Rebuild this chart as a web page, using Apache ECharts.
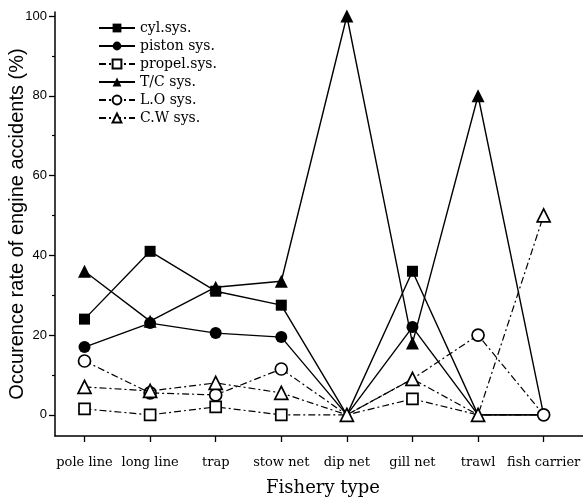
<!DOCTYPE html>
<html>
<head>
<meta charset="utf-8">
<script src="https://cdn.jsdelivr.net/npm/echarts@6/dist/echarts.min.js"></script>
<style>
  html, body { margin: 0; padding: 0; background: #fff; }
  #chart { width: 583px; height: 499px; }
</style>
</head>
<body>
<div id="chart"></div>
<script>
// Fishery types along the x axis
const fisheryTypes = ['pole line', 'long line', 'trap', 'stow net', 'dip net', 'gill net', 'trawl', 'fish carrier'];

// Occurrence rate of engine accidents (%) per system
const cylSys    = [24, 41, 31, 27.5, 0, 36, 0, 0];
const pistonSys = [17, 23, 20.5, 19.5, 0, 22, 0, 0];
const propelSys = [1.5, 0, 2, 0, 0, 4, 0, 0];
const tcSys     = [36, 23.5, 32, 33.5, 100, 18, 80, 0];
const loSys     = [13.5, 5.5, 5, 11.5, 0, 9, 20, 0];
const cwSys     = [7, 6, 8, 5.5, 0, 9, 0, 50];

// Axis ticks
const yTicks = [0, 20, 40, 60, 80, 100];
const yMinorTicks = [10, 30, 50, 70, 90];
const xTicks = fisheryTypes.map((_, i) => i);

const seriesDefs = [
  { name: 'cyl.sys.',    data: cylSys,    symbol: 'rect',     size: 11, filled: true,  dashed: false },
  { name: 'piston sys.', data: pistonSys, symbol: 'circle',   size: 12, filled: true,  dashed: false },
  { name: 'propel.sys.', data: propelSys, symbol: 'rect',     size: 11, filled: false, dashed: true },
  { name: 'T/C sys.',    data: tcSys,     symbol: 'triangle', size: 13, filled: true,  dashed: false },
  { name: 'L.O sys.',    data: loSys,     symbol: 'circle',   size: 12, filled: false, dashed: true },
  { name: 'C.W sys.',    data: cwSys,     symbol: 'triangle', size: 13, filled: false, dashed: true }
];

// Where several systems share exactly the same value, only the last drawn marker shows
function buildData(si) {
  const vals = seriesDefs[si].data;
  return vals.map((v, i) => {
    const covered = seriesDefs.some((d, sj) => sj > si && d.data[i] === v);
    return covered ? { value: [i, v], symbol: 'none' } : { value: [i, v] };
  });
}

const series = seriesDefs.map((d, si) => ({
  name: d.name,
  type: 'line',
  data: buildData(si),
  symbol: d.symbol,
  symbolSize: d.size,
  showAllSymbol: true,
  itemStyle: {
    color: d.filled ? '#000' : '#fff',
    borderColor: '#000',
    borderWidth: d.filled ? 0 : 1.7
  },
  lineStyle: {
    color: '#000',
    width: d.dashed ? 1.2 : 1.4,
    type: d.dashed ? [7, 3, 2, 3] : 'solid'
  },
  emphasis: { disabled: true },
  z: 2 + si
}));

const chart = echarts.init(document.getElementById('chart'), null, { renderer: 'canvas' });
chart.setOption({
  animation: false,
  backgroundColor: '#fff',
  grid: { left: 55, right: 0, top: 12, bottom: 63, outerBoundsMode: 'none', containLabel: false },
  legend: {
    orient: 'vertical',
    left: 93,
    top: 16,
    itemWidth: 36,
    itemHeight: 11,
    itemGap: 4,
    selectedMode: false,
    textStyle: { fontFamily: 'DejaVu Serif', fontSize: 14, lineHeight: 14, color: '#000' },
    data: seriesDefs.map(d => d.name)
  },
  xAxis: {
    type: 'value',
    min: -0.45,
    max: 7.6,
    axisLine: { show: true, onZero: false, lineStyle: { color: '#000', width: 1.5 } },
    axisTick: { show: true, customValues: xTicks, length: 6, lineStyle: { color: '#000', width: 1.3 } },
    axisLabel: {
      customValues: xTicks,
      formatter: v => fisheryTypes[Math.round(v)],
      fontFamily: 'DejaVu Serif',
      fontSize: 13,
      color: '#000',
      margin: 20
    },
    splitLine: { show: false },
    name: 'Fishery type',
    nameLocation: 'middle',
    nameMoveOverlap: false,
    nameGap: 43,
    nameTextStyle: { fontFamily: 'DejaVu Serif', fontSize: 18, color: '#000', padding: [0, 0, 0, 8] }
  },
  yAxis: [
    {
      type: 'value',
      position: 'left',
      min: -5.3,
      max: 101,
      axisLine: { show: true, onZero: false, lineStyle: { color: '#000', width: 1.5 } },
      axisTick: { show: true, customValues: yTicks, length: 6, lineStyle: { color: '#000', width: 1.3 } },
      axisLabel: { customValues: yTicks, fontFamily: 'Liberation Sans', fontSize: 13, color: '#000', margin: 8 },
      splitLine: { show: false },
      name: 'Occurence rate of engine accidents (%)',
      nameLocation: 'middle',
      nameMoveOverlap: false,
      nameGap: 28,
      nameTextStyle: { fontFamily: 'Liberation Sans', fontSize: 20, color: '#000' }
    },
    {
      type: 'value',
      position: 'left',
      offset: 0,
      min: -5.3,
      max: 101,
      axisLine: { show: false, onZero: false },
      axisTick: { show: true, customValues: yMinorTicks, length: 3, lineStyle: { color: '#000', width: 1.2 } },
      axisLabel: { show: false },
      splitLine: { show: false }
    }
  ],
  series: series
});
</script>
</body>
</html>
